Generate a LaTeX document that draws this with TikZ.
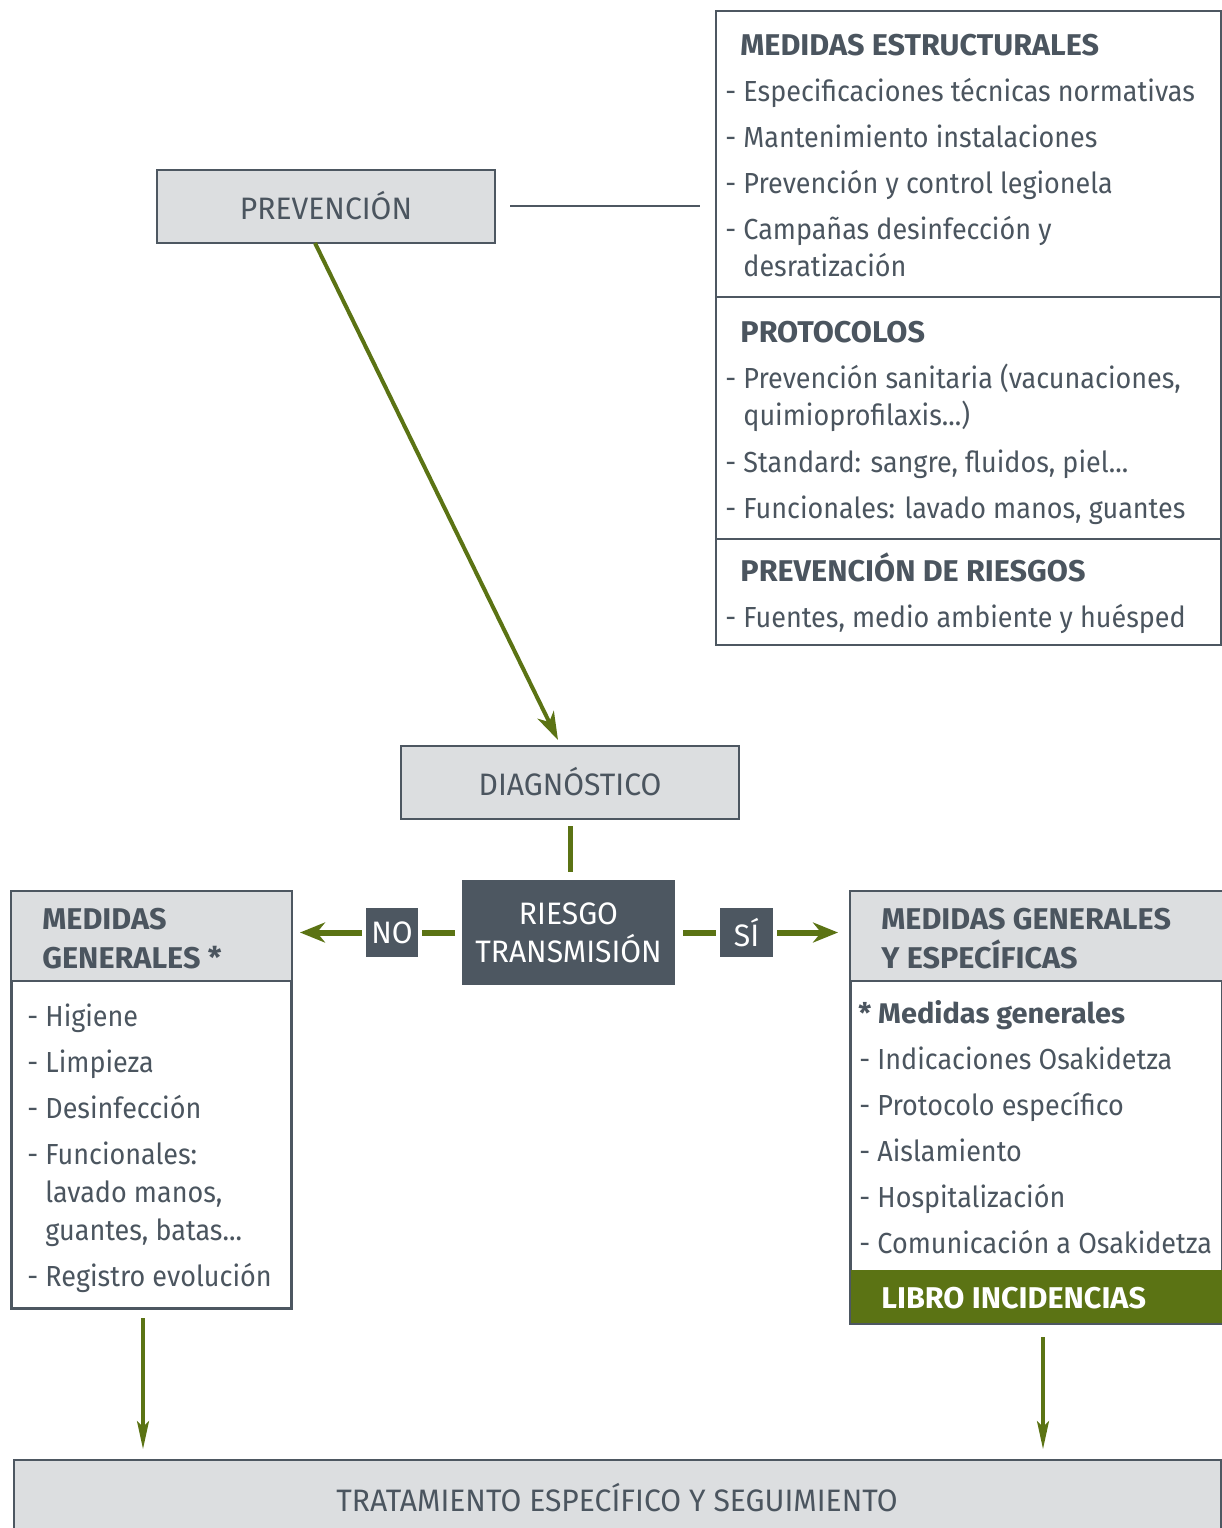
\documentclass[tikz,border=0pt]{standalone}
\usepackage{fontspec}
\setmainfont{Fira Sans}[FakeStretch=0.93]
\newfontfamily\hdfont{Fira Sans}[FakeStretch=1.02]
\newfontfamily\lblfont{Fira Sans}[FakeStretch=0.97]
\usetikzlibrary{arrows.meta}
\definecolor{txt}{HTML}{4B555F}
\definecolor{boxgray}{HTML}{DCDEE0}
\definecolor{dark}{HTML}{4D5761}
\definecolor{grn}{HTML}{5B7314}
\begin{document}
\begin{tikzpicture}[x=0.5pt,y=-0.5pt,
  frame/.style={draw=dark,line width=1pt,fill=white,inner sep=0pt,anchor=north west},
  graybox/.style={draw=dark,line width=1pt,fill=boxgray,inner sep=0pt,text=txt,font=\lblfont\fontsize{15.5}{18}\selectfont},
  darkbox/.style={fill=dark,inner sep=0pt,text=white,font=\lblfont\fontsize{15.5}{19}\selectfont,align=center},
  item/.style={anchor=base west,inner sep=0pt,text=txt,font=\fontsize{14.5}{17}\selectfont},
  head/.style={anchor=base west,inner sep=0pt,text=txt,font=\hdfont\fontsize{15}{18}\selectfont\bfseries},
  garrow/.style={draw=grn,line width=3pt,-{Stealth[length=12.5pt,width=10pt,inset=4pt]}},
  gline/.style={draw=grn,line width=3pt},
  darrow/.style={draw=grn,line width=1.6pt,-{Stealth[length=14pt,width=6pt,inset=3pt]}},
]
\useasboundingbox (0,0) rectangle (1222,1528);

% PREVENCION
\node[graybox,minimum width=169pt,minimum height=36.5pt] (prev) at (326,206) {PREVENCIÓN};

% right top box
\node[frame,minimum width=252.5pt,minimum height=317pt] (rbox) at (715,10) {};
\coordinate (dv1) at (0,297);
\coordinate (dv2) at (0,539);
\draw[dark,line width=1pt] (rbox.west |- dv1) -- (rbox.east |- dv1);
\draw[dark,line width=1pt] (rbox.west |- dv2) -- (rbox.east |- dv2);

\node[head] (h1) at (740,55) {MEDIDAS ESTRUCTURALES};
\node[item] (a1) at (725,101) {- Especificaciones técnicas normativas};
\node[item] (a2) at (725,147) {- Mantenimiento instalaciones};
\node[item] (a3) at (725,193) {- Prevención y control legionela};
\node[item] (a4) at (725,239) {- Campañas desinfección y};
\node[item] (a5) at (743,276) {desratización};
\node[head] (h2) at (740,342) {PROTOCOLOS};
\node[item] (b1) at (725,388) {- Prevención sanitaria (vacunaciones,};
\node[item] (b2) at (743,425) {quimioprofilaxis...)};
\node[item] (b3) at (725,472) {- Standard: sangre, fluidos, piel...};
\node[item] (b4) at (725,518) {- Funcionales: lavado manos, guantes};
\node[head] (h3) at (740,581) {PREVENCIÓN DE RIESGOS};
\node[item] (c1) at (725,627) {- Fuentes, medio ambiente y huésped};

\coordinate (pl1) at (510,206);
\coordinate (pl2) at (700,206);
\draw[dark,line width=1pt] (pl1) -- (pl2);

% DIAGNOSTICO
\node[graybox,minimum width=169pt,minimum height=36.5pt] (diag) at (570,782) {DIAGNÓSTICO};
\coordinate (ds) at (315,243);
\coordinate (de) at (558,740);
\draw[draw=grn,line width=2pt,-{Stealth[length=14pt,width=9pt,inset=4pt]}] (ds) -- (de);

% RIESGO
\node[darkbox,minimum width=106.5pt,minimum height=52.5pt] (riesgo) at (568.5,932.5) {RIESGO\\TRANSMISIÓN};
\coordinate (rt1) at (570,826);
\coordinate (rt2) at (570,872);
\draw[draw=grn,line width=2.5pt] (rt1) -- (rt2);

\node[darkbox,minimum width=26pt,minimum height=24.5pt] (no) at (392,932.5) {NO};
\node[darkbox,minimum width=26.5pt,minimum height=24.5pt] (si) at (746.5,932.5) {SÍ};

% left box
\node[frame,minimum width=139.5pt,minimum height=208pt] (lbox) at (11,891) {};
\coordinate (lh) at (0,981);
\fill[boxgray] (lbox.north west) rectangle (lbox.east |- lh);
\draw[dark,line width=1pt] (lbox.west |- lh) -- (lbox.east |- lh);
\draw[dark,line width=1pt] (lbox.north west) rectangle (lbox.south east);
\node[head] (lh1) at (42,929) {MEDIDAS};
\node[head] (lh2) at (42,968) {GENERALES *};
\node[item] (l1) at (27,1026) {- Higiene};
\node[item] (l2) at (27,1072) {- Limpieza};
\node[item] (l3) at (27,1118) {- Desinfección};
\node[item] (l4) at (27,1164) {- Funcionales:};
\node[item] (l5) at (45,1202) {lavado manos,};
\node[item] (l6) at (45,1240) {guantes, batas...};
\node[item] (l7) at (27,1286) {- Registro evolución};

% right box
\node[frame,minimum width=185.5pt,minimum height=215.5pt] (gbox) at (850,891) {};
\coordinate (gh) at (0,981);
\coordinate (gl) at (0,1270);
\fill[boxgray] (gbox.north west) rectangle (gbox.east |- gh);
\fill[grn] (gbox.west |- gl) rectangle (gbox.south east);
\draw[dark,line width=1pt] (gbox.west |- gh) -- (gbox.east |- gh);
\draw[dark,line width=1pt] (gbox.north west) rectangle (gbox.south east);
\node[head] (gh1) at (881,929) {MEDIDAS GENERALES};
\node[head] (gh2) at (881,968) {Y ESPECÍFICAS};
\node[head,font=\hdfont\fontsize{14.2}{17}\selectfont\bfseries] (g0) at (858,1023) {* Medidas generales};
\node[item] (g1) at (859,1069) {- Indicaciones Osakidetza};
\node[item] (g2) at (859,1115) {- Protocolo específico};
\node[item] (g3) at (859,1161) {- Aislamiento};
\node[item] (g4) at (859,1207) {- Hospitalización};
\node[item] (g5) at (859,1253) {- Comunicación a Osakidetza};
\node[head,text=white] (libro) at (881,1308) {LIBRO INCIDENCIAS};

% horizontal connectors
\coordinate (nla) at (455,932.5);
\coordinate (nlb) at (422,932.5);
\draw[gline] (nla) -- (nlb);
\coordinate (nlc) at (362,932.5);
\coordinate (nld) at (300,932.5);
\draw[garrow] (nlc) -- (nld);
\coordinate (sla) at (683,932.5);
\coordinate (slb) at (716,932.5);
\draw[gline] (sla) -- (slb);
\coordinate (slc) at (777,932.5);
\coordinate (sld) at (838,932.5);
\draw[garrow] (slc) -- (sld);

% bottom box
\node[draw=dark,line width=1pt,fill=boxgray,inner sep=0pt,anchor=north west,minimum width=603.5pt,minimum height=45pt] (bot) at (13,1459) {};
\node[text=txt,font=\lblfont\fontsize{15.5}{18}\selectfont,inner sep=0pt] (bottxt) at (617,1498) {TRATAMIENTO ESPECÍFICO Y SEGUIMIENTO};

\coordinate (la1) at (143,1318);
\coordinate (la2) at (143,1449);
\draw[darrow] (la1) -- (la2);
\coordinate (ra1) at (1043,1337);
\coordinate (ra2) at (1043,1449);
\draw[darrow] (ra1) -- (ra2);
\end{tikzpicture}
\end{document}
